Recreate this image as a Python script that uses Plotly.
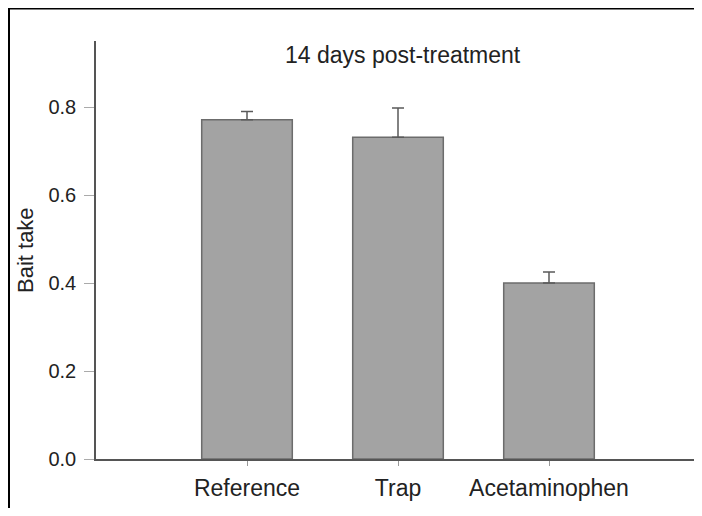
import plotly.graph_objects as go

categories = ["Reference", "Trap", "Acetaminophen"]
values = [0.771, 0.731, 0.400]
err_upper = [0.019, 0.067, 0.025]
y_ticks = [0.0, 0.2, 0.4, 0.6, 0.8]
y_tick_labels = ["0.0", "0.2", "0.4", "0.6", "0.8"]
title_text = "14 days post-treatment"
y_title = "Bait take"

fig = go.Figure()
fig.add_trace(go.Bar(
    x=list(range(len(categories))),
    y=values,
    width=0.60,
    marker=dict(color="#a3a3a3", line=dict(color="#6c6c6c", width=1.5)),
    error_y=dict(type="data", array=err_upper, arrayminus=[0] * len(values),
                 symmetric=False, color="#5a5a5a", thickness=1.5, width=6),
    showlegend=False,
))

# page body adds an 8px margin on every side; size figure to fit the window exactly
W, H = 686, 500
L, R, T, B = 88, 0, 33, 49
pw, ph = W - L - R, H - T - B

def px(x):
    return (x - L) / pw

def py(y):
    return (H - B - y) / ph

fig.update_layout(
    width=W, height=H,
    margin=dict(l=L, r=R, t=T, b=B, pad=0),
    paper_bgcolor="white", plot_bgcolor="white",
    font=dict(family="Liberation Sans, Arial, sans-serif", color="#222222"),
    xaxis=dict(
        range=[-1, -1 + pw / 151],
        tickmode="array", tickvals=list(range(len(categories))), ticktext=categories,
        showline=True, linecolor="#555555", linewidth=1.5,
        ticks="outside", ticklen=5, tickcolor="#999999", tickwidth=1,
        tickfont=dict(size=23, color="#222222"),
        ticklabelstandoff=3,
        showgrid=False, zeroline=False,
    ),
    yaxis=dict(
        range=[0, 0.95],
        tickmode="array", tickvals=y_ticks, ticktext=y_tick_labels,
        showline=True, linecolor="#555555", linewidth=1.5,
        ticks="outside", ticklen=10, tickcolor="#aaaaaa", tickwidth=1,
        tickfont=dict(size=20, color="#222222"),
        ticklabelstandoff=4,
        showgrid=False, zeroline=False,
    ),
    annotations=[
        dict(text=title_text, x=1.03, xref="x", y=py(47), yref="paper",
             showarrow=False, font=dict(size=23, color="#222222"),
             xanchor="center", yanchor="middle"),
        dict(text=y_title, x=px(17), xref="paper", y=0.5, yref="paper",
             showarrow=False, textangle=-90, font=dict(size=22, color="#222222"),
             xanchor="center", yanchor="middle"),
    ],
    shapes=[
        dict(type="line", xref="paper", yref="paper",
             x0=px(0), x1=px(W), y0=py(0.5), y1=py(0.5),
             line=dict(color="black", width=2)),
        dict(type="line", xref="paper", yref="paper",
             x0=px(1), x1=px(1), y0=py(0), y1=py(H),
             line=dict(color="black", width=2)),
    ],
)

fig.write_html("out.html")
